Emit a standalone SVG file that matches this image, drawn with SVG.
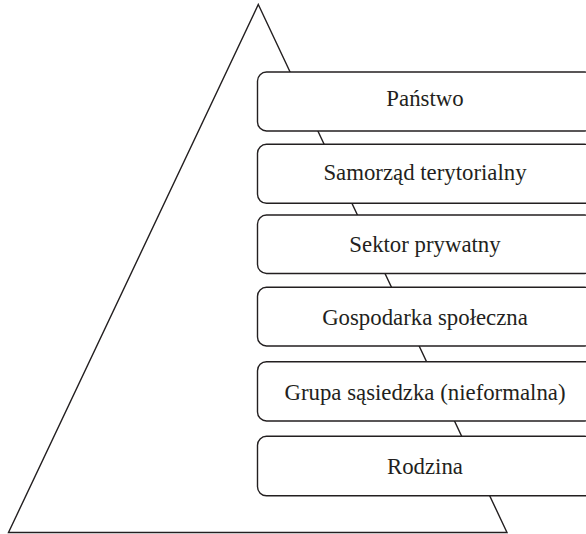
<svg xmlns="http://www.w3.org/2000/svg" width="586" height="534" viewBox="0 0 586 534">
  <style>
    .tri { fill: none; stroke: #231f20; stroke-width: 1.4; }
    .box rect { fill: #ffffff; stroke: #231f20; stroke-width: 1.4; }
    .box text { font-family: "Liberation Serif", "Times New Roman", serif; font-size: 22.8px; fill: #231f20; text-anchor: middle; }
  </style>
  <rect width="586" height="534" fill="#ffffff"/>
  <!-- pyramid outline, partly hidden behind the level boxes -->
  <g id="connectors">
    <polygon class="tri" points="258.3,4.5 507,532.5 8.5,532.5"/>
  </g>
  <g id="level-panstwo" class="box">
    <rect x="257.5" y="72" width="336" height="59" rx="9"/>
    <text x="425" y="106">Państwo</text>
  </g>
  <g id="level-samorzad" class="box">
    <rect x="257.5" y="144.3" width="336" height="59" rx="9"/>
    <text x="425" y="180">Samorząd terytorialny</text>
  </g>
  <g id="level-sektor" class="box">
    <rect x="257.5" y="215" width="336" height="58.5" rx="9"/>
    <text x="425" y="251.5">Sektor prywatny</text>
  </g>
  <g id="level-gospodarka" class="box">
    <rect x="257.5" y="287.3" width="336" height="58.7" rx="9"/>
    <text x="425" y="325">Gospodarka społeczna</text>
  </g>
  <g id="level-grupa" class="box">
    <rect x="257.5" y="361.7" width="336" height="59.3" rx="9"/>
    <text x="425" y="399.5">Grupa sąsiedzka (nieformalna)</text>
  </g>
  <g id="level-rodzina" class="box">
    <rect x="257.5" y="436.3" width="336" height="59.5" rx="9"/>
    <text x="425" y="474">Rodzina</text>
  </g>
</svg>
